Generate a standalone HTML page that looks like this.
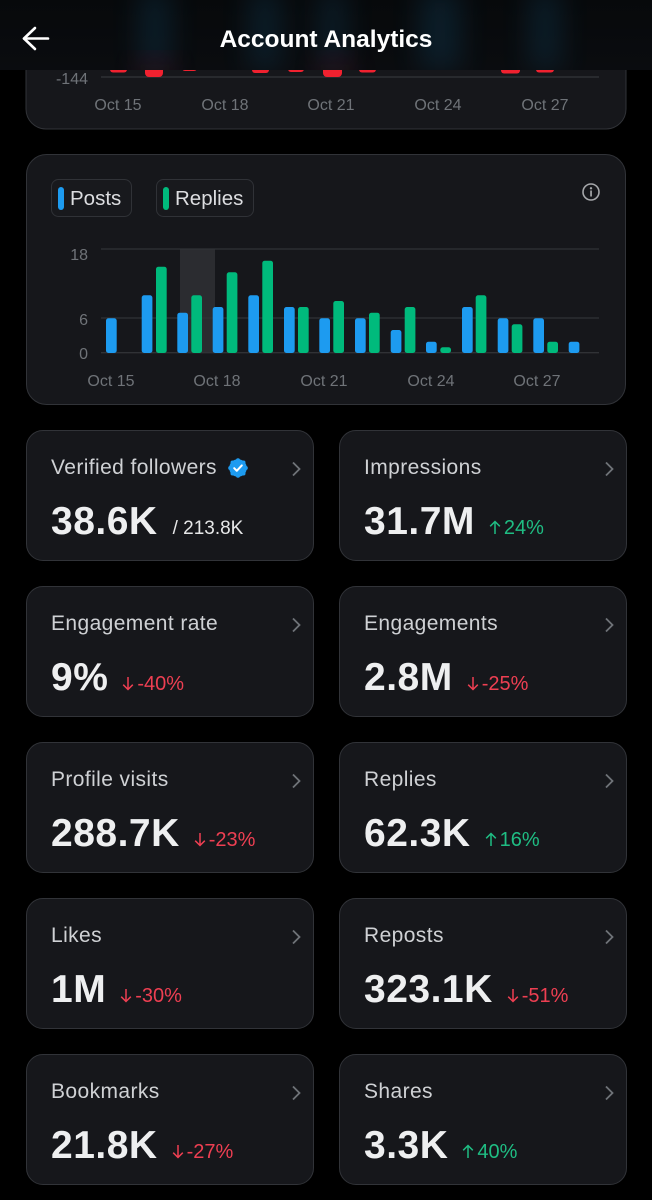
<!DOCTYPE html>
<html>
<head>
<meta charset="utf-8">
<style>
  html,body{margin:0;padding:0;background:#000;}
  body{width:652px;height:1200px;position:relative;overflow:hidden;font-family:"Liberation Sans",Arial,sans-serif;}
  .card{position:absolute;width:286px;height:129px;background:#16171b;border:1px solid #313338;border-radius:17px;}
  .title{position:absolute;left:24px;top:26px;font-size:21px;line-height:21px;color:#cfd1d4;white-space:nowrap;letter-spacing:0.4px;}
  .val{position:absolute;left:24px;top:71px;font-size:39px;line-height:39px;font-weight:bold;color:#eeeff0;white-space:nowrap;letter-spacing:0.5px;}
  .chg{font-size:20px;font-weight:normal;margin-left:14px;letter-spacing:0;}
  .chg svg{display:inline-block;vertical-align:-1px;margin-right:3px;}
  .up{color:#1fbd83;}
  .dn{color:#ee3f52;}
  .sub{font-size:19px;font-weight:normal;color:#e6e7e8;margin-left:15px;letter-spacing:0;}
  .chev{position:absolute;left:264px;top:30px;}
</style>
</head>
<body>

<!-- Charts background layer -->
<svg width="652" height="410" style="position:absolute;left:0;top:0;" xmlns="http://www.w3.org/2000/svg">
  <rect x="26" y="-40" width="600" height="169" rx="20" fill="#16171b" stroke="#313338" stroke-width="1"/>
  <line x1="101" y1="77" x2="599" y2="77" stroke="#34363b" stroke-width="1.2"/>
  <g fill="#f0212f">
    <rect x="110" y="62" width="17" height="10.5" rx="3"/>
    <rect x="145" y="62" width="18" height="15" rx="4"/>
    <rect x="182" y="62" width="15" height="9" rx="3"/>
    <rect x="252" y="62" width="17" height="11" rx="3"/>
    <rect x="288" y="62" width="16" height="10" rx="3"/>
    <rect x="323" y="62" width="19" height="15" rx="4"/>
    <rect x="359" y="62" width="17" height="10.5" rx="3"/>
    <rect x="501" y="62" width="19" height="11.5" rx="3"/>
    <rect x="536" y="62" width="18" height="10.5" rx="3"/>
  </g>
  <g font-size="16" fill="#6f7378" font-family="Liberation Sans, Arial, sans-serif">
    <text x="88" y="84" text-anchor="end">-144</text>
    <text x="118" y="110" text-anchor="middle">Oct 15</text>
    <text x="225" y="110" text-anchor="middle">Oct 18</text>
    <text x="331" y="110" text-anchor="middle">Oct 21</text>
    <text x="438" y="110" text-anchor="middle">Oct 24</text>
    <text x="545" y="110" text-anchor="middle">Oct 27</text>
  </g>

  <rect x="26.5" y="154.5" width="599" height="250" rx="20" fill="#16171b" stroke="#313338" stroke-width="1"/>
  <rect x="51.5" y="179.5" width="80" height="37" rx="7" fill="#18191d" stroke="#303237"/>
  <rect x="58" y="187" width="6" height="23" rx="3" fill="#1d9bf0"/>
  <text x="70" y="205" font-size="20.5" fill="#dcdde0" font-family="Liberation Sans, Arial, sans-serif">Posts</text>
  <rect x="156.5" y="179.5" width="97" height="37" rx="7" fill="#18191d" stroke="#303237"/>
  <rect x="163" y="187" width="6" height="23" rx="3" fill="#00ba7c"/>
  <text x="175" y="205" font-size="20.5" fill="#dcdde0" font-family="Liberation Sans, Arial, sans-serif">Replies</text>
  <circle cx="591" cy="192" r="8" fill="none" stroke="#a6a8ab" stroke-width="1.6"/>
  <circle cx="591" cy="188.3" r="1.2" fill="#a6a8ab"/>
  <rect x="590.2" y="190.5" width="1.7" height="6" fill="#a6a8ab"/>

  <rect x="180" y="249" width="35" height="104" fill="#2b2c30"/>
  <g stroke="#303236" stroke-width="1.3">
    <line x1="101" y1="249" x2="599" y2="249"/>
    <line x1="101" y1="318" x2="599" y2="318"/>
    <line x1="101" y1="352.7" x2="599" y2="352.7"/>
  </g>
  <g font-size="16" fill="#6f7378" font-family="Liberation Sans, Arial, sans-serif">
    <text x="88" y="260" text-anchor="end">18</text>
    <text x="88" y="325" text-anchor="end">6</text>
    <text x="88" y="359" text-anchor="end">0</text>
    <text x="111" y="386" text-anchor="middle">Oct 15</text>
    <text x="217" y="386" text-anchor="middle">Oct 18</text>
    <text x="324" y="386" text-anchor="middle">Oct 21</text>
    <text x="431" y="386" text-anchor="middle">Oct 24</text>
    <text x="537" y="386" text-anchor="middle">Oct 27</text>
  </g>
  <g fill="#1d9bf0">
    <rect x="106" y="318.3" width="10.7" height="34.7" rx="2.5"/>
    <rect x="141.7" y="295.3" width="10.7" height="57.7" rx="2.5"/>
    <rect x="177.3" y="312.7" width="10.7" height="40.3" rx="2.5"/>
    <rect x="212.7" y="307" width="10.7" height="46" rx="2.5"/>
    <rect x="248.3" y="295.3" width="10.7" height="57.7" rx="2.5"/>
    <rect x="284" y="307" width="10.7" height="46" rx="2.5"/>
    <rect x="319.3" y="318.3" width="10.7" height="34.7" rx="2.5"/>
    <rect x="355" y="318.3" width="10.7" height="34.7" rx="2.5"/>
    <rect x="390.7" y="330" width="10.7" height="23" rx="2.5"/>
    <rect x="426" y="341.7" width="10.7" height="11.3" rx="2.5"/>
    <rect x="462" y="307" width="10.7" height="46" rx="2.5"/>
    <rect x="497.7" y="318.3" width="10.7" height="34.7" rx="2.5"/>
    <rect x="533.3" y="318.3" width="10.7" height="34.7" rx="2.5"/>
    <rect x="568.7" y="341.7" width="10.7" height="11.3" rx="2.5"/>
  </g>
  <g fill="#00ba7c">
    <rect x="156" y="266.7" width="10.7" height="86.3" rx="2.5"/>
    <rect x="191.3" y="295.3" width="10.7" height="57.7" rx="2.5"/>
    <rect x="226.7" y="272.3" width="10.7" height="80.7" rx="2.5"/>
    <rect x="262.3" y="260.7" width="10.7" height="92.3" rx="2.5"/>
    <rect x="298" y="307" width="10.7" height="46" rx="2.5"/>
    <rect x="333.3" y="301" width="10.7" height="52" rx="2.5"/>
    <rect x="369" y="312.7" width="10.7" height="40.3" rx="2.5"/>
    <rect x="404.7" y="307" width="10.7" height="46" rx="2.5"/>
    <rect x="440.3" y="347.3" width="10.7" height="5.7" rx="2.5"/>
    <rect x="475.7" y="295.3" width="10.7" height="57.7" rx="2.5"/>
    <rect x="511.7" y="324.3" width="10.7" height="28.7" rx="2.5"/>
    <rect x="547.3" y="341.7" width="10.7" height="11.3" rx="2.5"/>
  </g>
</svg>

<!-- Header overlay -->
<svg width="652" height="70" style="position:absolute;left:0;top:0;" xmlns="http://www.w3.org/2000/svg">
  <defs>
    <filter id="bl" x="-50%" y="-50%" width="200%" height="200%"><feGaussianBlur stdDeviation="14"/></filter>
    <linearGradient id="hg" x1="0" y1="0" x2="0" y2="1">
      <stop offset="0" stop-color="#07090b"/>
      <stop offset="1" stop-color="#0a0c0f"/>
    </linearGradient>
  </defs>
  <rect x="0" y="0" width="652" height="70" fill="url(#hg)"/>
  <g filter="url(#bl)" fill="#1d6fa0" opacity="0.2">
    <rect x="140" y="-10" width="30" height="80"/>
    <rect x="250" y="-10" width="30" height="80"/>
    <rect x="320" y="-10" width="25" height="80"/>
    <rect x="420" y="-10" width="40" height="80"/>
    <rect x="530" y="-10" width="30" height="80"/>
  </g>
  <g filter="url(#bl)" fill="#a01020" opacity="0.25">
    <rect x="140" y="60" width="30" height="20"/>
    <rect x="320" y="60" width="30" height="20"/>
  </g>
  <g stroke="#ffffff" stroke-width="2.6" fill="none" stroke-linecap="round" stroke-linejoin="round">
    <line x1="24" y1="38.5" x2="48" y2="38.5"/>
    <polyline points="35,28 24,38.5 35,49"/>
  </g>
  <text x="326" y="47" text-anchor="middle" font-size="24.5" font-weight="bold" fill="#ffffff" font-family="Liberation Sans, Arial, sans-serif">Account Analytics</text>
</svg>

<!-- Metric cards -->
<div class="card" style="left:26px;top:430px;">
  <div class="title">Verified followers</div>
  <svg style="position:absolute;left:201px;top:27px;" width="20" height="20" viewBox="0 0 20 20">
    <circle cx="10" cy="10" r="8.8" fill="#1d9bf0"/>
    <g fill="#1d9bf0">
      <circle cx="10" cy="2.2" r="2"/><circle cx="10" cy="17.8" r="2"/>
      <circle cx="2.2" cy="10" r="2"/><circle cx="17.8" cy="10" r="2"/>
      <circle cx="4.5" cy="4.5" r="2"/><circle cx="15.5" cy="4.5" r="2"/>
      <circle cx="4.5" cy="15.5" r="2"/><circle cx="15.5" cy="15.5" r="2"/>
    </g>
    <polyline points="6.2,10.2 8.8,12.8 13.8,7.4" fill="none" stroke="#fff" stroke-width="2" stroke-linecap="round" stroke-linejoin="round"/>
  </svg>
  <svg class="chev" width="12" height="16"><polyline points="2,1.5 8.5,8 2,14.5" fill="none" stroke="#6f7378" stroke-width="1.8"/></svg>
  <div class="val">38.6K<span class="sub">/ 213.8K</span></div>
</div>

<div class="card" style="left:339px;top:430px;">
  <div class="title">Impressions</div>
  <svg class="chev" width="12" height="16"><polyline points="2,1.5 8.5,8 2,14.5" fill="none" stroke="#6f7378" stroke-width="1.8"/></svg>
  <div class="val">31.7M<span class="chg up"><svg width="12" height="15" viewBox="0 0 12 15"><path d="M6 14V1.5M1.2 6.3L6 1.5l4.8 4.8" fill="none" stroke="#1fbd83" stroke-width="1.5"/></svg>24%</span></div>
</div>

<div class="card" style="left:26px;top:586px;">
  <div class="title">Engagement rate</div>
  <svg class="chev" width="12" height="16"><polyline points="2,1.5 8.5,8 2,14.5" fill="none" stroke="#6f7378" stroke-width="1.8"/></svg>
  <div class="val">9%<span class="chg dn"><svg width="12" height="15" viewBox="0 0 12 15"><path d="M6 1v12.5M1.2 8.7L6 13.5l4.8-4.8" fill="none" stroke="#ee3f52" stroke-width="1.5"/></svg>-40%</span></div>
</div>

<div class="card" style="left:339px;top:586px;">
  <div class="title">Engagements</div>
  <svg class="chev" width="12" height="16"><polyline points="2,1.5 8.5,8 2,14.5" fill="none" stroke="#6f7378" stroke-width="1.8"/></svg>
  <div class="val">2.8M<span class="chg dn"><svg width="12" height="15" viewBox="0 0 12 15"><path d="M6 1v12.5M1.2 8.7L6 13.5l4.8-4.8" fill="none" stroke="#ee3f52" stroke-width="1.5"/></svg>-25%</span></div>
</div>

<div class="card" style="left:26px;top:742px;">
  <div class="title">Profile visits</div>
  <svg class="chev" width="12" height="16"><polyline points="2,1.5 8.5,8 2,14.5" fill="none" stroke="#6f7378" stroke-width="1.8"/></svg>
  <div class="val">288.7K<span class="chg dn"><svg width="12" height="15" viewBox="0 0 12 15"><path d="M6 1v12.5M1.2 8.7L6 13.5l4.8-4.8" fill="none" stroke="#ee3f52" stroke-width="1.5"/></svg>-23%</span></div>
</div>

<div class="card" style="left:339px;top:742px;">
  <div class="title">Replies</div>
  <svg class="chev" width="12" height="16"><polyline points="2,1.5 8.5,8 2,14.5" fill="none" stroke="#6f7378" stroke-width="1.8"/></svg>
  <div class="val">62.3K<span class="chg up"><svg width="12" height="15" viewBox="0 0 12 15"><path d="M6 14V1.5M1.2 6.3L6 1.5l4.8 4.8" fill="none" stroke="#1fbd83" stroke-width="1.5"/></svg>16%</span></div>
</div>

<div class="card" style="left:26px;top:898px;">
  <div class="title">Likes</div>
  <svg class="chev" width="12" height="16"><polyline points="2,1.5 8.5,8 2,14.5" fill="none" stroke="#6f7378" stroke-width="1.8"/></svg>
  <div class="val">1M<span class="chg dn"><svg width="12" height="15" viewBox="0 0 12 15"><path d="M6 1v12.5M1.2 8.7L6 13.5l4.8-4.8" fill="none" stroke="#ee3f52" stroke-width="1.5"/></svg>-30%</span></div>
</div>

<div class="card" style="left:339px;top:898px;">
  <div class="title">Reposts</div>
  <svg class="chev" width="12" height="16"><polyline points="2,1.5 8.5,8 2,14.5" fill="none" stroke="#6f7378" stroke-width="1.8"/></svg>
  <div class="val">323.1K<span class="chg dn"><svg width="12" height="15" viewBox="0 0 12 15"><path d="M6 1v12.5M1.2 8.7L6 13.5l4.8-4.8" fill="none" stroke="#ee3f52" stroke-width="1.5"/></svg>-51%</span></div>
</div>

<div class="card" style="left:26px;top:1054px;">
  <div class="title">Bookmarks</div>
  <svg class="chev" width="12" height="16"><polyline points="2,1.5 8.5,8 2,14.5" fill="none" stroke="#6f7378" stroke-width="1.8"/></svg>
  <div class="val">21.8K<span class="chg dn"><svg width="12" height="15" viewBox="0 0 12 15"><path d="M6 1v12.5M1.2 8.7L6 13.5l4.8-4.8" fill="none" stroke="#ee3f52" stroke-width="1.5"/></svg>-27%</span></div>
</div>

<div class="card" style="left:339px;top:1054px;">
  <div class="title">Shares</div>
  <svg class="chev" width="12" height="16"><polyline points="2,1.5 8.5,8 2,14.5" fill="none" stroke="#6f7378" stroke-width="1.8"/></svg>
  <div class="val">3.3K<span class="chg up"><svg width="12" height="15" viewBox="0 0 12 15"><path d="M6 14V1.5M1.2 6.3L6 1.5l4.8 4.8" fill="none" stroke="#1fbd83" stroke-width="1.5"/></svg>40%</span></div>
</div>

</body>
</html>
